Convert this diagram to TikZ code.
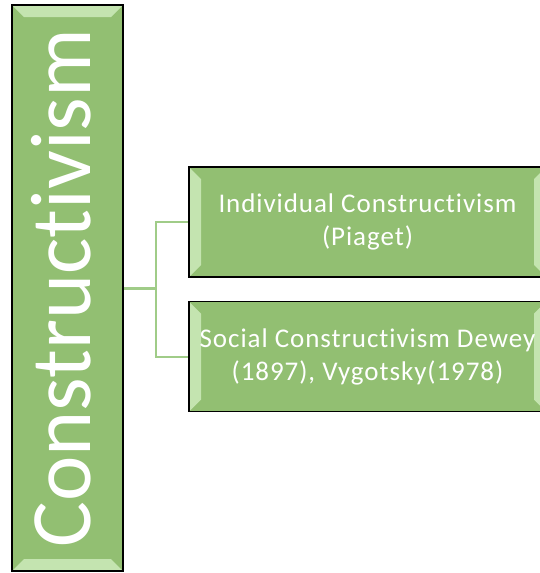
\documentclass[tikz,border=0pt]{standalone}
\usepackage{fontspec}
\setmainfont{Carlito}[Ligatures=CommonOff]
\usetikzlibrary{positioning}
\definecolor{leafgreen}{RGB}{146,191,114}
\definecolor{bevelgreen}{RGB}{196,228,176}
\definecolor{linkgreen}{RGB}{160,204,136}

\begin{document}
\begin{tikzpicture}[x=1pt,y=-1pt,
        box/.style={draw=black,line width=1.6pt,fill=leafgreen,text=white,align=center,inner sep=0pt},
        smalltext/.style={font=\fontsize{27}{33}\selectfont\addfontfeature{LetterSpace=3.5}},
        sidebevel/.style={path picture={
            \fill[bevelgreen] (path picture bounding box.south west) -- (path picture bounding box.north west)
                -- ++(12pt,-12pt) -- ([shift={(12pt,12pt)}]path picture bounding box.south west) -- cycle;
            \fill[bevelgreen] (path picture bounding box.south east) -- (path picture bounding box.north east)
                -- ++(-12pt,-12pt) -- ([shift={(-12pt,12pt)}]path picture bounding box.south east) -- cycle;
        }},
        endbevel/.style={path picture={
            \fill[bevelgreen] (path picture bounding box.north west) -- (path picture bounding box.north east)
                -- ++(-12pt,-12pt) -- ([shift={(12pt,-12pt)}]path picture bounding box.north west) -- cycle;
            \fill[bevelgreen] (path picture bounding box.south west) -- (path picture bounding box.south east)
                -- ++(-12pt,12pt) -- ([shift={(12pt,12pt)}]path picture bounding box.south west) -- cycle;
        }},
        link/.style={draw=linkgreen,line width=2pt}]
                \useasboundingbox (0,0) rectangle (539,573);

                \node[box,endbevel,minimum width=111pt,minimum height=566pt] (main) at (67.5,288)
                    {\rotatebox{90}{\raisebox{6pt}[\height][\depth]{\fontsize{86}{86}\selectfont Constructivism}}};
                \node[box,sidebevel,smalltext,minimum width=357pt,minimum height=110pt] (indiv) at (367.5,222)
                    {Individual Constructivism\\(Piaget)};
                \node[box,sidebevel,smalltext,minimum width=357pt,minimum height=110pt,below=23pt of indiv] (social)
                    {Social Constructivism Dewey\\(1897), Vygotsky(1978)};

                \coordinate (fork) at (156,288);
                \draw[link,line width=3pt] (main.east) -- (fork);
                \draw[link] (indiv.west) -| (fork) |- (social.west);
            \end{tikzpicture}
\end{document}
